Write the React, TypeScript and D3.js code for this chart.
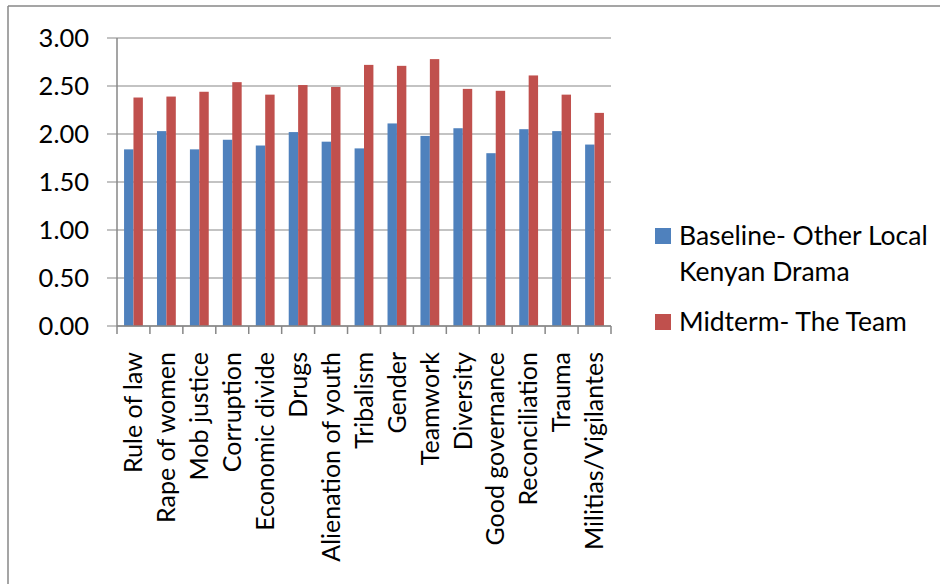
import React from "react";
import * as d3 from "d3";

const categories = [
  "Rule of law",
  "Rape of women",
  "Mob justice",
  "Corruption",
  "Economic divide",
  "Drugs",
  "Alienation of youth",
  "Tribalism",
  "Gender",
  "Teamwork",
  "Diversity",
  "Good governance",
  "Reconciliation",
  "Trauma",
  "Militias/Vigilantes",
];
const baseline = [1.84, 2.03, 1.84, 1.94, 1.88, 2.02, 1.92, 1.85, 2.11, 1.98, 2.06, 1.8, 2.05, 2.03, 1.89];
const midterm = [2.38, 2.39, 2.44, 2.54, 2.41, 2.51, 2.49, 2.72, 2.71, 2.78, 2.47, 2.45, 2.61, 2.41, 2.22];
const seriesNames = ["Baseline- Other Local", "Kenyan Drama"];
const seriesName2 = "Midterm- The Team";
const yTicks = [0, 0.5, 1, 1.5, 2, 2.5, 3];
const colors = ["#4F81BD", "#C0504D"];

const FONT = "Lato, 'Open Sans', sans-serif";

export default function App() {
  const left = 117, right = 611, top = 38, bottom = 326;
  const x = d3.scaleBand<string>().domain(categories).range([left, right]).paddingInner(0).paddingOuter(0);
  const y = d3.scaleLinear().domain([0, 3]).range([bottom, top]);
  const bw = x.bandwidth() / 3.5;
  const inner = d3.scaleBand<number>().domain([0, 1]).range([0, bw * 2]);
  const grid = "#878787";
  return (
    <svg width={940} height={584} style={{ position: "absolute", left: 0, top: 0, background: "#fff" }}>
      <rect x={0} y={0} width={940} height={584} fill="#fff" />
      <line x1={8} y1={6} x2={940} y2={6} stroke={grid} strokeWidth={1.5} />
      <line x1={8} y1={6} x2={8} y2={584} stroke={grid} strokeWidth={1.5} />
      {yTicks.map((t) => (
        <g key={t}>
          <line x1={left - 10} x2={right} y1={y(t)} y2={y(t)} stroke={grid} strokeWidth={1} />
          <text x={89} y={y(t)} dy="0.35em" textAnchor="end" fontFamily={FONT} fontSize={25.5} fill="#000">
            {d3.format(".2f")(t)}
          </text>
        </g>
      ))}
      {categories.map((c, i) => {
        const x0 = (x(c) as number) + bw * 0.75;
        return (
          <g key={c}>
            <rect x={x0 + (inner(0) as number)} y={y(baseline[i])} width={bw} height={bottom - y(baseline[i])} fill={colors[0]} />
            <rect x={x0 + (inner(1) as number)} y={y(midterm[i])} width={bw} height={bottom - y(midterm[i])} fill={colors[1]} />
          </g>
        );
      })}
      <line x1={left} x2={left} y1={top} y2={bottom} stroke={grid} strokeWidth={1.5} />
      <line x1={left} x2={right} y1={bottom} y2={bottom} stroke={grid} strokeWidth={1.5} />
      {categories.concat(["end"]).map((c, i) => {
        const xx = left + i * x.bandwidth();
        return <line key={"t" + i} x1={xx} x2={xx} y1={bottom} y2={bottom + 8} stroke={grid} strokeWidth={1.5} />;
      })}
      {categories.map((c) => {
        const cx = (x(c) as number) + x.bandwidth() / 2;
        return (
          <text
            key={"l" + c}
            transform={`translate(${cx},352) rotate(-90)`}
            dy="0.35em"
            textAnchor="end"
            fontFamily={FONT}
            fontSize={25}
            fill="#000"
          >
            {c}
          </text>
        );
      })}
      <rect x={655} y={228} width={16} height={16} fill={colors[0]} />
      <text x={679} y={245} fontFamily={FONT} fontSize={26.5} fill="#000">{seriesNames[0]}</text>
      <text x={679} y={281} fontFamily={FONT} fontSize={26.5} fill="#000">{seriesNames[1]}</text>
      <rect x={655} y={314} width={16} height={16} fill={colors[1]} />
      <text x={679} y={331} fontFamily={FONT} fontSize={26.5} fill="#000">{seriesName2}</text>
    </svg>
  );
}
